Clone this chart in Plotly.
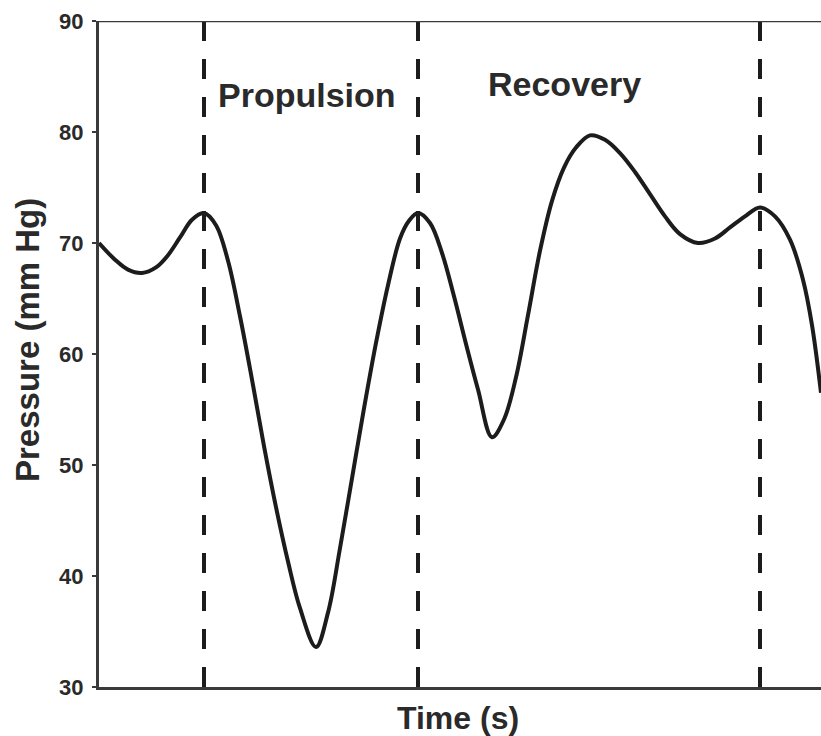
import plotly.graph_objects as go

# Pressure trace over one stroke cycle (time in arbitrary units)
time_s = [0.00, 0.16, 0.29, 0.43, 0.57, 0.69, 0.81, 0.93, 1.05,
          1.17, 1.29, 1.41, 1.53, 1.65, 1.77, 1.89, 2.01, 2.17,
          2.29, 2.41, 2.53, 2.65, 2.77, 2.89, 3.01, 3.10, 3.19,
          3.31, 3.43, 3.55, 3.67, 3.79, 3.93,
          4.05, 4.17, 4.29, 4.41, 4.53, 4.65, 4.77, 4.91,
          5.06, 5.21, 5.36, 5.51, 5.66, 5.81, 5.99,
          6.16, 6.31, 6.46, 6.61,
          6.76, 6.91, 7.04, 7.13, 7.22]
pressure = [70.0, 68.5, 67.6, 67.3, 67.8, 68.9, 70.5, 72.1, 72.7,
            71.6, 68.4, 63.4, 57.7, 51.7, 46.2, 41.3, 37.1, 33.6,
            36.7, 42.5, 48.8, 55.1, 61.0, 66.2, 70.4, 72.0, 72.7,
            71.8, 69.1, 65.2, 60.9, 56.8, 52.5,
            54.1, 57.9, 63.5, 69.3, 73.8, 76.8, 78.6, 79.7,
            79.3, 78.1, 76.4, 74.4, 72.4, 70.8, 70.0,
            70.4, 71.4, 72.4, 73.2,
            72.4, 70.3, 66.7, 62.6, 56.5]

# Phase boundaries and labels
phase_marks = [1.05, 3.19, 6.61]
phase_labels = ["Propulsion", "Recovery"]
phase_label_x = [2.08, 4.65]
phase_label_y = [83.3, 84.3]

y_ticks = [30, 40, 50, 60, 70, 80, 90]
x_range = [0, 7.22]
y_range = [30, 90]

ink = "#1c1c1c"
axis_col = "#3a3a3a"
text_col = "#2a2a2a"
font_name = "Liberation Sans"

fig = go.Figure()

fig.add_trace(go.Scatter(
    x=time_s, y=pressure, mode="lines",
    line=dict(color=ink, width=4, shape="spline", smoothing=1.0),
    showlegend=False, hoverinfo="skip",
))

for xm in phase_marks:
    fig.add_shape(type="line", xref="x", yref="y", x0=xm, x1=xm,
                  y0=y_range[0], y1=y_range[1],
                  line=dict(color=ink, width=4, dash="20px,18px"))

# top frame line
fig.add_shape(type="line", xref="paper", yref="y", x0=0, x1=1,
              y0=y_range[1], y1=y_range[1],
              line=dict(color=axis_col, width=2.5))

for txt, lx, ly in zip(phase_labels, phase_label_x, phase_label_y):
    fig.add_annotation(x=lx, y=ly, text=txt, showarrow=False,
                       font=dict(family=font_name, size=34,
                                 color=text_col, weight="bold"))

# axis titles
fig.add_annotation(xref="paper", yref="paper", x=-0.0997, y=0.521,
                   text="<b>Pressure (mm Hg)</b>", textangle=-90,
                   showarrow=False, xanchor="center", yanchor="middle",
                   font=dict(family=font_name, size=33, color=text_col))
fig.add_annotation(xref="paper", yref="paper", x=0.497, y=-0.0465,
                   text="<b>Time (s)</b>", showarrow=False,
                   xanchor="center", yanchor="middle",
                   font=dict(family=font_name, size=32, color=text_col))

fig.update_layout(
    width=821, height=736,
    margin=dict(l=99, r=0, t=21, b=49),
    paper_bgcolor="white", plot_bgcolor="white",
    font=dict(family=font_name, color=text_col),
    xaxis=dict(range=x_range, showticklabels=False, ticks="",
               showgrid=False, zeroline=False,
               showline=True, linecolor=axis_col, linewidth=3),
    yaxis=dict(range=y_range, tickvals=y_ticks, ticks="outside",
               ticklen=4, tickwidth=2, tickcolor=axis_col,
               ticklabelstandoff=4,
               showgrid=False, zeroline=False,
               showline=True, linecolor=axis_col, linewidth=3,
               tickfont=dict(size=22, weight="bold", color=text_col)),
)

fig.write_html("out.html")
